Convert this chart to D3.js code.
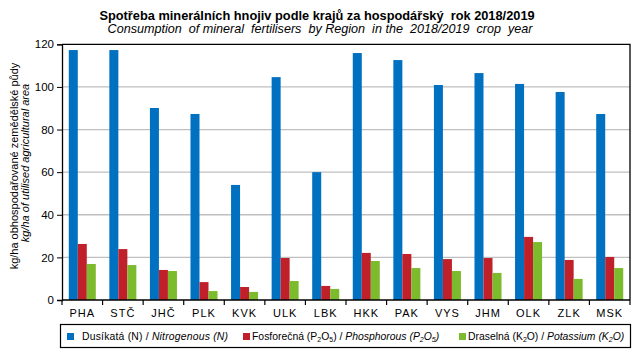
<!DOCTYPE html>
<html><head><meta charset="utf-8">
<script src="https://cdn.jsdelivr.net/npm/d3@7"></script>
<style>body{margin:0;background:#fff}svg{display:block;font-family:"Liberation Sans",Arial,sans-serif}</style>
</head><body><svg id="c" width="643" height="357"></svg>
<script>
const categories = ["PHA","STČ","JHČ","PLK","KVK","ULK","LBK","HKK","PAK","VYS","JHM","OLK","ZLK","MSK"];
const nitrogen   = [117.3,117.3,90.1,87.3,54.0,104.6,60.0,115.9,112.6,100.9,106.5,101.4,97.6,87.3];
const phosphorus = [26.3,23.9,14.1,8.4,6.1,19.7,6.6,22.1,21.6,19.2,19.7,29.6,18.8,20.2];
const potassium  = [16.9,16.4,13.6,4.2,3.8,8.9,5.2,18.3,15.0,13.6,12.7,27.2,9.9,15.0];
const yTicks = [0,20,40,60,80,100,120];
const seriesKeys = ["N","P","K"];
const colors = ["#0070C0","#C0202A","#7DBB2E"];

const svg = d3.select("#c");
const m = {l:62, r:630, t:44.3, b:300};
const x = d3.scaleBand().domain(categories).range([m.l, m.r]).paddingInner(0.334).paddingOuter(0.167);
const xs = d3.scaleBand().domain(seriesKeys).range([0, x.bandwidth()]);
const y = d3.scaleLinear().domain([0,120]).range([m.b, m.t]);

// gridlines
svg.append("g").selectAll("line").data(yTicks.filter(d=>d>0&&d<120)).join("line")
  .attr("x1",m.l).attr("x2",m.r).attr("y1",d=>y(d)).attr("y2",d=>y(d))
  .attr("stroke","#BFBFBF").attr("stroke-width",1.3);

// bars
const data = categories.map((c,i)=>({c, vals:[nitrogen[i],phosphorus[i],potassium[i]]}));
const g = svg.append("g").selectAll("g").data(data).join("g")
  .attr("transform",d=>`translate(${x(d.c)},0)`);
g.selectAll("rect").data(d=>d.vals.map((v,j)=>({k:seriesKeys[j],v,j}))).join("rect")
  .attr("x",d=>xs(d.k)).attr("width",xs.bandwidth())
  .attr("y",d=>y(d.v)).attr("height",d=>y(0)-y(d.v))
  .attr("fill",d=>colors[d.j]);

// frame top/right
svg.append("path").attr("d",`M${m.l},${m.t}H${m.r}V${m.b}`).attr("fill","none").attr("stroke","#000").attr("stroke-width",1.3);

// y axis
const ya = svg.append("g").attr("transform",`translate(${m.l},0)`)
  .call(d3.axisLeft(y).tickValues(yTicks).tickSize(5).tickPadding(3));
ya.select(".domain").attr("stroke","#000").attr("stroke-width",1.3);
ya.selectAll("text").attr("font-size","11.5px").attr("fill","#000").attr("font-family","Liberation Sans, Arial");

// x axis with boundary ticks
const xa = svg.append("g").attr("transform",`translate(0,${m.b})`);
xa.append("line").attr("x1",m.l).attr("x2",m.r).attr("stroke","#000").attr("stroke-width",1.3);
const step = x.step();
xa.selectAll("line.t").data(d3.range(categories.length+1)).join("line").attr("class","t")
  .attr("x1",i=>m.l+i*step).attr("x2",i=>m.l+i*step).attr("y1",0).attr("y2",5)
  .attr("stroke","#000").attr("stroke-width",1.2);
xa.selectAll("text").data(categories).join("text")
  .attr("x",d=>x(d)+x.bandwidth()/2).attr("y",17).attr("text-anchor","middle")
  .attr("font-size","11px").attr("letter-spacing","1px").text(d=>d);

// titles
svg.append("text").attr("x",317).attr("y",20).attr("text-anchor","middle")
  .attr("font-weight","bold").attr("font-size","12.8px").style("white-space","pre")
  .text("Spotřeba minerálních hnojiv podle krajů za hospodářský  rok 2018/2019");
svg.append("text").attr("x",320).attr("y",33).attr("text-anchor","middle")
  .attr("font-style","italic").attr("font-size","12.6px").style("white-space","pre")
  .text("Consumption  of mineral  fertilisers  by Region  in the  2018/2019  crop  year");

// y axis title
svg.append("text").attr("transform","translate(18,166) rotate(-90)").attr("text-anchor","middle")
  .attr("font-size","11px").text("kg/ha obhospodařované zemědělské půdy");
svg.append("text").attr("transform","translate(29,163) rotate(-90)").attr("text-anchor","middle")
  .attr("font-size","11px").attr("font-style","italic").text("kg/ha of utilised agricultural area");

// legend
svg.append("rect").attr("x",60.5).attr("y",324.5).attr("width",570).attr("height",23)
  .attr("fill","none").attr("stroke","#000").attr("stroke-width",1.2);
[67,243,459].forEach((sx,i)=>{
  svg.append("rect").attr("x",sx).attr("y",333).attr("width",7).attr("height",7).attr("fill",colors[i]);
});
const fs = "10.4px";
const t1 = svg.append("text").attr("x",82).attr("y",340).attr("font-size",fs).style("white-space","pre")
  .attr("textLength",146).attr("lengthAdjust","spacing");
t1.append("tspan").text("Dusíkatá (N) / ");
t1.append("tspan").attr("font-style","italic").text("Nitrogenous (N)");
const t2 = svg.append("text").attr("x",252).attr("y",340).attr("font-size",fs).style("white-space","pre");
t2.append("tspan").text("Fosforečná (P");
t2.append("tspan").attr("font-size","7px").attr("dy",2).text("2");
t2.append("tspan").attr("dy",-2).text("O");
t2.append("tspan").attr("font-size","7px").attr("dy",2).text("5");
t2.append("tspan").attr("dy",-2).text(") / ");
t2.append("tspan").attr("font-style","italic").text("Phosphorous (P");
t2.append("tspan").attr("font-style","italic").attr("font-size","7px").attr("dy",2).text("2");
t2.append("tspan").attr("font-style","italic").attr("dy",-2).text("O");
t2.append("tspan").attr("font-style","italic").attr("font-size","7px").attr("dy",2).text("5");
t2.append("tspan").attr("font-style","italic").attr("dy",-2).text(")");
const t3 = svg.append("text").attr("x",468).attr("y",340).attr("font-size",fs).style("white-space","pre");
t3.append("tspan").text("Draselná (K");
t3.append("tspan").attr("font-size","7px").attr("dy",2).text("2");
t3.append("tspan").attr("dy",-2).text("O) / ");
t3.append("tspan").attr("font-style","italic").text("Potassium (K");
t3.append("tspan").attr("font-style","italic").attr("font-size","7px").attr("dy",2).text("2");
t3.append("tspan").attr("font-style","italic").attr("dy",-2).text("O)");
</script></body></html>
